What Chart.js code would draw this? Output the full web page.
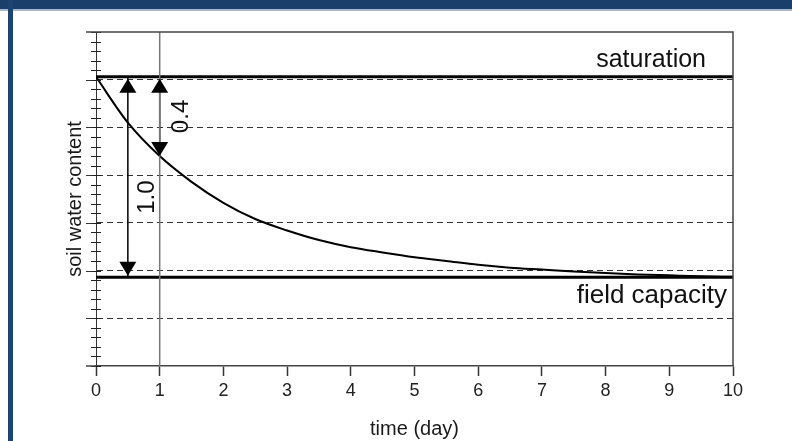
<!DOCTYPE html>
<html>
<head>
<meta charset="utf-8">
<script src="https://cdn.jsdelivr.net/npm/chart.js@4/dist/chart.umd.min.js"></script>
<style>
  html, body { margin: 0; padding: 0; background: #fff; }
  #wrap { position: relative; width: 792px; height: 441px; overflow: hidden; }
  #chart { position: absolute; left: 0; top: 0; }
  .band { position: absolute; left: 0; top: 0; width: 792px; height: 9px; background: #1b3f6b; border-bottom: 2px solid #a7b6c8; }
  .side { position: absolute; left: 8px; top: 0; width: 5px; height: 441px; background: #1d4472; }
</style>
</head>
<body>
<div id="wrap">
  <canvas id="chart" width="792" height="441"></canvas>
  <div class="band"></div>
  <div class="side"></div>
</div>
<script>
// values
var
    timeDays     = [0, 0.5, 1, 1.5, 2, 2.5, 3, 3.5, 4, 4.5, 5, 5.5, 6, 6.5, 7, 7.5, 8, 8.5, 9, 9.5, 10]
  , waterContent = [6.06, 5.10, 4.40, 3.86, 3.42, 3.08, 2.84, 2.64, 2.49, 2.38, 2.28, 2.20, 2.12, 2.06, 2.02, 1.98, 1.95, 1.92, 1.90, 1.88, 1.87]
  , saturation   = 6.06
  , fieldCap     = 1.86
  , dayTicks     = [0, 1, 2, 3, 4, 5, 6, 7, 8, 9, 10]
  , arrowDays    = [0.5, 1]
  , arrowLabels  = ['1.0', '0.4']
  , markDay      = 1

var FONT = "'Liberation Sans', Arial, sans-serif"

// arrow ends: the full one goes down to field capacity, the short one to the curve at day 1
var arrowEnds = [fieldCap, waterContent[timeDays.indexOf(markDay)]]

var lineSet = function (points, width, color) {
  return {
      data             : points
    , borderColor      : color || '#000'
    , borderWidth      : width
    , pointRadius      : 0
    , fill             : false
  }
}

var datasets = [
    lineSet([{ x: markDay, y: 0 }, { x: markDay, y: 7 }], 1.5, '#777')
  , lineSet([{ x: 0, y: saturation }, { x: 10, y: saturation }], 3)
  , lineSet([{ x: 0, y: fieldCap }, { x: 10, y: fieldCap }], 3)
  , Object.assign(lineSet(timeDays.map(function (t, i) { return { x: t, y: waterContent[i] } }), 2), { cubicInterpolationMode: 'monotone' })
]
arrowDays.forEach(function (d, i) {
  datasets.push(lineSet([{ x: d, y: saturation }, { x: d, y: arrowEnds[i] }], 1.5))
})

var isWhole = function (v) { return Math.abs(v - Math.round(v)) < 1e-6 }

var decorPlugin = {
    id: 'decor'
  , afterDraw: function (chart) {
      var
          ctx  = chart.ctx
        , area = chart.chartArea
        , xs   = chart.scales.x
        , ys   = chart.scales.y

      ctx.save()

      // small ticks crossing the y axis
      ctx.strokeStyle = '#222'
      ctx.lineWidth = 1
      ys.ticks.forEach(function (t) {
        var y = Math.round(ys.getPixelForValue(t.value)) + 0.5
        ctx.beginPath()
        ctx.moveTo(area.left - 5, y)
        ctx.lineTo(area.left + 5, y)
        ctx.stroke()
        if (isWhole(t.value) && t.value > 0 && t.value < 7) {
          ctx.save()
          ctx.setLineDash([6, 4])
          ctx.strokeStyle = '#333'
          ctx.beginPath()
          ctx.moveTo(area.left - 10, y)
          ctx.lineTo(area.left, y)
          ctx.stroke()
          ctx.restore()
        }
      })

      // top and right frame, bottom axis stub
      ctx.strokeStyle = '#444'
      ctx.lineWidth = 1.5
      ctx.beginPath()
      ctx.moveTo(area.left - 10, area.top)
      ctx.lineTo(area.right, area.top)
      ctx.lineTo(area.right, area.bottom)
      ctx.stroke()
      ctx.beginPath()
      ctx.moveTo(area.left - 10, area.bottom)
      ctx.lineTo(area.left, area.bottom)
      ctx.stroke()

      // arrow heads
      ctx.fillStyle = '#000'
      var head = function (x, y, dir) {
        ctx.beginPath()
        ctx.moveTo(x, y)
        ctx.lineTo(x - 8.5, y + dir * 14)
        ctx.lineTo(x + 8.5, y + dir * 14)
        ctx.closePath()
        ctx.fill()
      }
      arrowDays.forEach(function (d, i) {
        var x = xs.getPixelForValue(d)
        head(x, ys.getPixelForValue(saturation) + 2, 1)
        head(x, ys.getPixelForValue(arrowEnds[i]) - (i === 0 ? 1.5 : 0), -1)
      })

      // labels
      ctx.fillStyle = '#111'
      ctx.textAlign = 'right'
      ctx.textBaseline = 'alphabetic'
      ctx.font = '25px ' + FONT
      ctx.fillText('saturation', area.right - 27, ys.getPixelForValue(saturation) - 10)
      ctx.font = '26px ' + FONT
      ctx.fillText('field capacity', area.right - 6, ys.getPixelForValue(fieldCap) + 26)

      var rotLabel = function (text, x, y) {
        ctx.save()
        ctx.translate(x, y)
        ctx.rotate(-Math.PI / 2)
        ctx.textAlign = 'center'
        ctx.textBaseline = 'middle'
        ctx.fillText(text, 0, 0)
        ctx.restore()
      }
      ctx.font = '24px ' + FONT
      rotLabel(arrowLabels[0], xs.getPixelForValue(arrowDays[0]) + 20, (ys.getPixelForValue(saturation) + ys.getPixelForValue(fieldCap)) / 2 + 20)
      rotLabel(arrowLabels[1], xs.getPixelForValue(arrowDays[1]) + 22, (ys.getPixelForValue(saturation) + ys.getPixelForValue(arrowEnds[1])) / 2)

      ctx.restore()
  }
}

new Chart(document.getElementById('chart'), {
    type    : 'line'
  , data    : { datasets: datasets }
  , plugins : [decorPlugin]
  , options : {
        responsive       : false
      , animation        : false
      , devicePixelRatio : 1
      , layout           : { padding: { left: 0, top: 32, right: 59, bottom: 0 } }
      , plugins          : { legend: { display: false }, tooltip: { enabled: false } }
      , scales           : {
            x: {
                type   : 'linear'
              , min    : 0
              , max    : 10
              , afterBuildTicks: function (s) { s.ticks = dayTicks.map(function (v) { return { value: v } }) }
              , afterFit: function (s) { s.height = 75 }
              , ticks  : { color: '#222', padding: 4, font: { family: FONT, size: 18 } }
              , grid   : { drawOnChartArea: false, tickLength: 10, tickColor: '#333', tickWidth: 1.5 }
              , border : { color: '#444', width: 1.5 }
              , title  : { display: true, text: 'time (day)', color: '#1a1a1a', padding: { top: 0, bottom: 0 }, font: { family: FONT, size: 20 } }
            }
          , y: {
                type   : 'linear'
              , min    : 0
              , max    : 7
              , afterFit: function (s) { s.width = 96 }
              , ticks  : { display: false, stepSize: 0.2 }
              , grid   : {
                    drawTicks : false
                  , lineWidth : 1
                  , color     : function (c) {
                      var v = c.tick ? c.tick.value : 0
                      return isWhole(v) && v > 0 && v < 7 ? '#333' : 'rgba(0,0,0,0)'
                    }
                }
              , border : { color: '#333', width: 1, dash: [6, 4] }
              , title  : { display: true, text: 'soil water content', color: '#1a1a1a', padding: { top: 63, bottom: 0 }, font: { family: FONT, size: 20 } }
            }
        }
    }
})
</script>
</body>
</html>
